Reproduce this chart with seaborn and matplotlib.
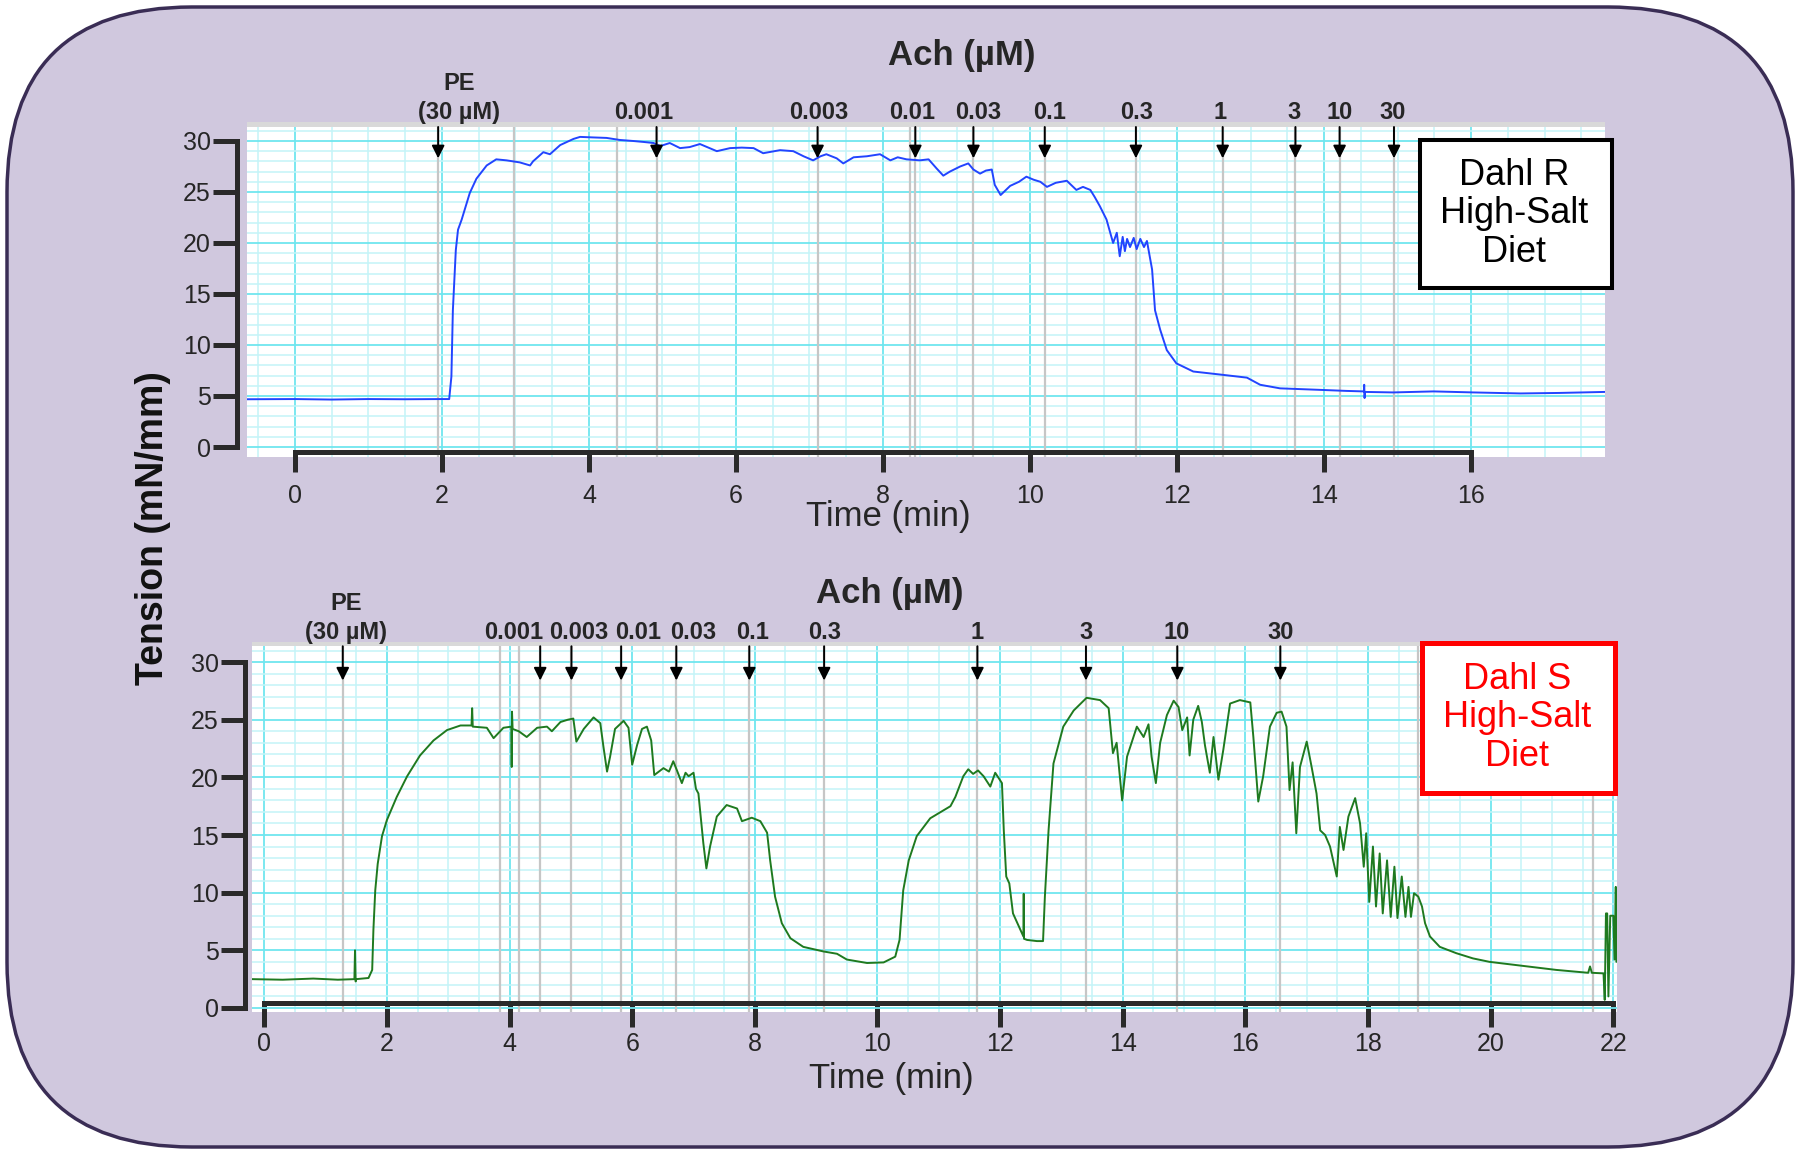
import numpy as np
import matplotlib
matplotlib.use("Agg")
import matplotlib.pyplot as plt
import seaborn as sns
from matplotlib.patches import FancyBboxPatch, Rectangle
from matplotlib.ticker import MultipleLocator

# ---------------- data ----------------
# Dahl R trace (time in min, tension mN/mm)
R_t = [-0.65, 0.0, 0.5, 1.0, 1.5, 2.0, 2.10, 2.13, 2.15, 2.19, 2.22, 2.27, 2.38, 2.47, 2.61, 2.74,
       2.88, 3.06, 3.20, 3.24, 3.38, 3.47, 3.61, 3.79, 3.88, 4.05, 4.24, 4.42, 4.60, 4.75, 4.88,
       4.97, 5.10, 5.24, 5.37, 5.51, 5.74, 5.92, 6.08, 6.24, 6.37, 6.60, 6.78, 6.92, 7.05, 7.15,
       7.23, 7.37, 7.46, 7.60, 7.78, 7.96, 8.10, 8.20, 8.32, 8.50, 8.62, 8.73, 8.82, 8.91, 9.05,
       9.16, 9.23, 9.32, 9.40, 9.48, 9.52, 9.60, 9.73, 9.85, 9.95, 10.05, 10.14, 10.23, 10.35,
       10.50, 10.63, 10.72, 10.82, 10.88, 10.95, 11.04, 11.13, 11.18, 11.22, 11.26, 11.29, 11.32,
       11.36, 11.41, 11.45, 11.50, 11.55, 11.59, 11.66, 11.70, 11.77, 11.86, 11.99, 12.22, 12.59,
       12.95, 13.13, 13.40, 13.95, 14.30, 14.54, 14.545, 14.55, 14.555, 14.94, 15.49, 16.03,
       16.67, 17.20, 17.82]
R_v = [4.68, 4.70, 4.65, 4.70, 4.68, 4.70, 4.70, 6.9, 13.4, 19.3, 21.3, 22.3, 24.9, 26.3, 27.6, 28.2,
       28.1, 27.9, 27.6, 28.0, 28.9, 28.7, 29.6, 30.2, 30.4, 30.35, 30.3, 30.1, 30.0, 29.9, 29.8,
       29.5, 29.8, 29.3, 29.4, 29.7, 29.0, 29.3, 29.35, 29.3, 28.8, 29.1, 29.0, 28.5, 28.1, 28.5,
       28.7, 28.3, 27.8, 28.4, 28.5, 28.7, 28.1, 28.4, 28.2, 28.1, 28.2, 27.3, 26.6, 27.0, 27.5,
       27.8, 27.2, 26.8, 27.1, 27.2, 25.7, 24.7, 25.6, 26.0, 26.5, 26.2, 26.0, 25.5, 25.9,
       26.1, 25.2, 25.5, 25.2, 24.5, 23.6, 22.3, 20.0, 21.0, 18.7, 20.6, 19.2, 20.4,
       19.6, 20.5, 19.4, 20.4, 19.6, 20.2, 17.4, 13.4, 11.5, 9.5, 8.2, 7.4, 7.1,
       6.8, 6.1, 5.75, 5.6, 5.5, 5.45, 6.1, 4.8, 5.4, 5.35, 5.45, 5.35,
       5.25, 5.3, 5.4]

# Dahl S trace
S_t = [-0.2, 0.3, 0.8, 1.2, 1.47, 1.48, 1.49, 1.50, 1.70, 1.76, 1.78, 1.81, 1.85, 1.92, 2.00, 2.16,
       2.33, 2.54, 2.76, 2.98, 3.20, 3.38, 3.39, 3.40, 3.63, 3.74, 3.90, 4.03, 4.035, 4.04, 4.05,
       4.15, 4.28, 4.45, 4.61, 4.69, 4.83, 4.95, 5.04, 5.09, 5.21, 5.37, 5.48, 5.53, 5.59, 5.64,
       5.72, 5.86, 5.94, 6.00, 6.08, 6.16, 6.24, 6.31, 6.36, 6.51, 6.60, 6.67, 6.73, 6.81, 6.87,
       6.92, 7.00, 7.04, 7.08, 7.16, 7.21, 7.27, 7.38, 7.54, 7.71, 7.79, 7.95, 8.09, 8.20, 8.25,
       8.33, 8.44, 8.58, 8.79, 9.12, 9.34, 9.50, 9.83, 10.10, 10.29, 10.36, 10.42, 10.51, 10.64,
       10.86, 11.19, 11.27, 11.40, 11.48, 11.56, 11.64, 11.73, 11.84, 11.92, 12.03, 12.06, 12.10,
       12.15, 12.21, 12.33, 12.38, 12.385, 12.39, 12.44, 12.60, 12.70, 12.73, 12.79, 12.87, 13.03,
       13.20, 13.41, 13.63, 13.77, 13.84, 13.90, 13.99, 14.07, 14.23, 14.34, 14.42, 14.47, 14.54,
       14.61, 14.72, 14.83, 14.91, 14.97, 15.05, 15.09, 15.15, 15.23, 15.29, 15.34, 15.42, 15.48,
       15.56, 15.64, 15.75, 15.91, 16.08, 16.13, 16.21, 16.29, 16.40, 16.51, 16.59, 16.67, 16.72,
       16.77, 16.83, 16.89, 17.00, 17.08, 17.16, 17.22, 17.30, 17.38, 17.49, 17.54, 17.60, 17.68,
       17.79, 17.87, 17.93, 17.97, 18.02, 18.08, 18.13, 18.19, 18.24, 18.31, 18.37, 18.43, 18.48,
       18.55, 18.61, 18.66, 18.70, 18.75, 18.82, 18.88, 18.93, 19.01, 19.17, 19.44, 19.71, 19.98,
       20.53, 21.07, 21.59, 21.62, 21.65, 21.84, 21.86, 21.88, 21.90, 21.92, 21.95, 22.00, 22.02,
       22.04, 22.05]
S_v = [2.5, 2.45, 2.55, 2.45, 2.5, 5.0, 2.3, 2.5, 2.6, 3.3, 6.8, 10.2, 12.5, 14.9, 16.3, 18.3,
       20.1, 21.9, 23.2, 24.1, 24.5, 24.5, 26.0, 24.4, 24.3, 23.4, 24.3, 24.4, 20.9, 25.7, 24.2,
       24.0, 23.5, 24.3, 24.4, 24.0, 24.8, 25.0, 25.1, 23.1, 24.2, 25.2, 24.7, 22.7, 20.5, 21.8,
       24.2, 24.9, 24.3, 21.1, 22.8, 24.2, 24.4, 23.2, 20.2, 20.8, 20.5, 21.4, 20.6, 19.5, 20.4,
       20.1, 20.4, 19.0, 18.6, 14.3, 12.1, 14.0, 16.6, 17.6, 17.3, 16.2, 16.5, 16.2, 15.2, 12.8,
       9.65, 7.35, 6.05, 5.3, 4.9, 4.7, 4.2, 3.9, 3.95, 4.45, 5.9, 10.2, 12.8, 14.9,
       16.45, 17.5, 18.3, 20.1, 20.7, 20.3, 20.6, 20.1, 19.2, 20.4, 19.5, 15.4, 11.4,
       10.8, 8.2, 6.8, 6.2, 9.9, 6.0, 5.9, 5.8, 5.8, 9.65, 15.4, 21.2, 24.4,
       25.8, 26.9, 26.7, 26.0, 22.1, 23.0, 18.0, 21.8, 24.4, 23.5, 24.6, 21.8, 19.5,
       23.0, 25.4, 26.65, 26.1, 24.1, 25.2, 21.9, 25.0, 26.2, 24.8, 22.8, 20.4, 23.5,
       19.8, 22.4, 26.4, 26.7, 26.5, 23.5, 17.9, 20.1, 24.4, 25.6, 25.7, 24.4, 18.9,
       21.3, 15.15, 20.9, 23.1, 20.9, 18.6, 15.4, 15.0, 14.0, 11.4, 15.7, 13.7, 16.6,
       18.2, 16.0, 12.25, 15.15, 9.2, 14.0, 8.8, 13.4, 8.2, 12.8, 7.9, 12.25, 7.8,
       11.4, 7.9, 10.5, 7.9, 9.95, 9.65, 8.8, 7.35, 6.2, 5.3, 4.75, 4.3, 4.0,
       3.65, 3.3, 3.05, 3.6, 3.05, 3.0, 0.7, 8.2, 8.2, 1.0, 8.0, 8.0, 4.2,
       10.5, 4.0]

# drug additions
dose_labels = ["0.001", "0.003", "0.01", "0.03", "0.1", "0.3", "1", "3", "10", "30"]
R_pe_t = 1.95
R_dose_t = [4.92, 7.11, 8.44, 9.23, 10.20, 11.44, 12.62, 13.61, 14.21, 14.95]
R_label_t = [4.75, 7.12, 8.39, 9.29, 10.26, 11.45, 12.59, 13.59, 14.21, 14.93]
R_pe_label_t = 2.23
R_extra_marks = [2.98, 4.38, 8.37]

S_pe_t = 1.28
S_dose_t = [4.50, 5.01, 5.82, 6.72, 7.91, 9.13, 11.63, 13.40, 14.89, 16.57]
S_label_t = [4.06, 5.13, 6.10, 7.00, 7.96, 9.14, 11.62, 13.40, 14.88, 16.57]
S_pe_label_t = 1.33
S_extra_marks = [3.84, 4.15, 18.82, 21.67]

R_xticks = [0, 2, 4, 6, 8, 10, 12, 14, 16]
S_xticks = [0, 2, 4, 6, 8, 10, 12, 14, 16, 18, 20, 22]
yticks = [0, 5, 10, 15, 20, 25, 30]

# ---------------- style ----------------
sns.set_theme(style="white")
plt.rcParams["font.family"] = ["Liberation Sans", "DejaVu Sans"]

W, H = 1800, 1154
fig = plt.figure(figsize=(18, 11.54), dpi=100, facecolor="white")

bg = fig.add_axes([0, 0, 1, 1], zorder=0)
bg.set_xlim(0, W)
bg.set_ylim(H, 0)
bg.axis("off")
bg.add_patch(FancyBboxPatch((7, 7), W - 14, H - 14,
                            boxstyle="round,pad=0,rounding_size=185",
                            fc="#d0c8de", ec="#3a2d55", lw=2.5))
bg.text(153, 528, "Tension (mN/mm)", rotation=90, ha="center", va="center",
        fontsize=27, fontweight="bold", color="#111111")

SPINE = "#2a2a2a"


def panel(rect, xlim, ylim, t, v, color, xticks, spine_y, outward, xtick_len, xpad,
          pe_t, pe_label_t, dose_t, label_t, extra, tip, start, label_y, pe_y,
          title_xy, xlabel_xy, box, box_text, box_color, box_lw):
    ax = fig.add_axes(rect, zorder=2)
    ax.set_facecolor("white")
    # event marks
    for m in [pe_t] + dose_t + extra:
        ax.axvline(m, color="#c6c6c6", lw=1.6, zorder=1)
    ax.axhspan(31.37, ylim[1], color="#d9d9d9", lw=0, zorder=1)
    sns.lineplot(x=t, y=v, ax=ax, color=color, lw=1.4, estimator=None, sort=False, zorder=3)
    ax.set_xlim(*xlim)
    ax.set_ylim(*ylim)
    ax.set_xticks(xticks)
    ax.set_yticks(yticks)
    ax.xaxis.set_minor_locator(MultipleLocator(0.5))
    ax.yaxis.set_minor_locator(MultipleLocator(1))
    ax.set_axisbelow(True)
    ax.grid(which="minor", color="#c4f4f8", lw=1.1)
    ax.grid(which="major", color="#6fe6ef", lw=1.3)
    for s in ["top", "right"]:
        ax.spines[s].set_visible(False)
    ax.spines["left"].set_position(("outward", outward))
    ax.spines["left"].set_bounds(0, 30)
    ax.spines["bottom"].set_position(("data", spine_y))
    ax.spines["bottom"].set_bounds(xticks[0], xticks[-1])
    for s in ["left", "bottom"]:
        ax.spines[s].set_linewidth(3.6)
        ax.spines[s].set_color(SPINE)
        ax.spines[s].set_capstyle("projecting")
    ax.tick_params(axis="y", which="major", direction="out", length=17, width=3.6,
                   color=SPINE, labelsize=18, pad=2, left=True)
    ax.tick_params(axis="x", which="major", direction="out", length=xtick_len, width=3.6,
                   color=SPINE, labelsize=18, pad=xpad, bottom=True)
    ax.tick_params(which="minor", length=0)
    ax.set_xlabel("Time (min)", fontsize=25)
    ax.xaxis.set_label_coords(*xlabel_xy)
    ax.xaxis.label.set_va("center")
    ax.set_ylabel("")
    # arrows and labels
    for d in [pe_t] + dose_t:
        ax.annotate("", xy=(d, tip), xytext=(d, start),
                    arrowprops=dict(arrowstyle="-|>", color="black", lw=1.4,
                                    mutation_scale=19, shrinkA=0, shrinkB=0),
                    annotation_clip=False, zorder=6)
    for lt, lab in zip(label_t, dose_labels):
        ax.text(lt, label_y, lab, ha="center", va="center", fontsize=17,
                fontweight="bold", clip_on=False)
    ax.text(pe_label_t, pe_y, "PE", ha="center", va="center", fontsize=17,
            fontweight="bold", clip_on=False)
    ax.text(pe_label_t, label_y, "(30 µM)", ha="center", va="center", fontsize=17,
            fontweight="bold", clip_on=False)
    ax.text(title_xy[0], title_xy[1], "Ach (µM)", transform=ax.transAxes, ha="center",
            va="center", fontsize=25, fontweight="bold", clip_on=False)
    x0, x1, y0, y1 = box
    ax.add_patch(Rectangle((x0, y0), x1 - x0, y1 - y0, fc="white", ec=box_color,
                           lw=box_lw, clip_on=False, zorder=7))
    ax.text((x0 + x1) / 2 - 0.03, (y0 + y1) / 2, box_text, ha="center", va="center",
            fontsize=26, color=box_color, linespacing=1.12, zorder=8, clip_on=False)
    return ax


panel([247 / W, 1 - 457 / H, (1605 - 247) / W, (457 - 122) / H],
      (-0.65, 17.82), (-0.98, 31.86), R_t, R_v, "#2244ff", R_xticks, -0.49, 7.2, 14.4, 8.6,
      R_pe_t, R_pe_label_t, R_dose_t, R_label_t, R_extra_marks, 28.3, 31.37, 32.8, 35.6,
      (0.5265, 1.2), (0.472, -0.179), (15.31, 17.92, 15.6, 30.1),
      "Dahl R\nHigh-Salt\nDiet", "black", 2.9)

panel([252 / W, 1 - 1012 / H, (1617 - 252) / W, (1012 - 642) / H],
      (-0.2, 22.06), (-0.35, 31.74), S_t, S_v, "#1f7a1f", S_xticks, 0.43, 5.0, 17.0, 4.0,
      S_pe_t, S_pe_label_t, S_dose_t, S_label_t, S_extra_marks, 28.4, 31.37, 32.6, 35.1,
      (0.4674, 1.1324), (0.468, -0.181), (18.88, 22.03, 18.65, 31.66),
      "Dahl S\nHigh-Salt\nDiet", "#ff0000", 3.6)

fig.savefig("out.png", dpi=100, facecolor="white")
